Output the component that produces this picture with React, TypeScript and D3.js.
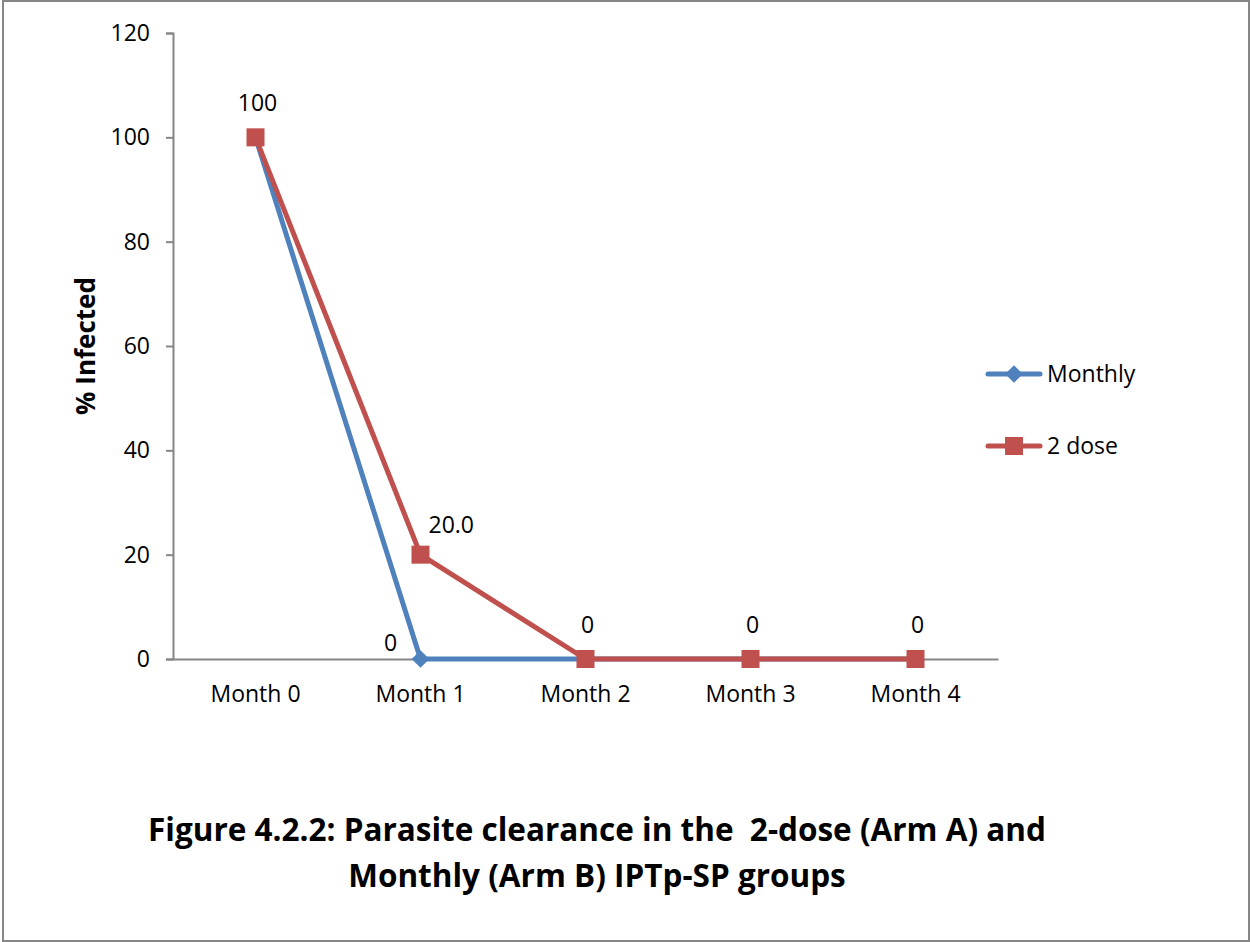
import React, { useEffect, useRef } from 'react';
import * as d3 from 'd3';

const categories = ['Month 0', 'Month 1', 'Month 2', 'Month 3', 'Month 4'];
const monthlyValues = [100, 0, 0, 0, 0];
const twoDoseValues = [100, 20, 0, 0, 0];
const yTicks = [0, 20, 40, 60, 80, 100, 120];
// data labels as shown on the chart (null = no label)
const monthlyLabels = [null, '0', null, null, null];
const twoDoseLabels = ['100', '20.0', '0', '0', '0'];

const FONT = '"Open Sans", Lato, sans-serif';
const BLUE = '#4F81BD';
const RED = '#C0504D';

export default function App() {
  const svgRef = useRef<SVGSVGElement>(null);

  useEffect(() => {
    if (!svgRef.current) return;
    const svg = d3.select(svgRef.current);
    svg.selectAll('*').remove();

    const width = 1251;
    const height = 942;
    const margin = { top: 33, left: 173, right: 253, bottom: 283 };

    // outer frame
    svg.append('rect')
      .attr('x', 3).attr('y', 1)
      .attr('width', width - 5).attr('height', height - 2)
      .attr('fill', 'white')
      .attr('stroke', '#868686')
      .attr('stroke-width', 2);

    const x = d3.scaleBand()
      .domain(categories)
      .range([margin.left, width - margin.right]);

    const y = d3.scaleLinear()
      .domain([0, 120])
      .range([height - margin.bottom, margin.top]);

    const cx = (c: string) => x(c)! + x.bandwidth() / 2;

    // y axis
    const yAxis = svg.append('g')
      .attr('transform', `translate(${margin.left},0)`)
      .call(d3.axisLeft(y).tickValues(yTicks).tickSize(7).tickPadding(16));
    yAxis.select('.domain').attr('stroke', '#868686').attr('stroke-width', 2);
    yAxis.selectAll('.tick line').attr('stroke', '#868686').attr('stroke-width', 2);
    yAxis.selectAll('.tick text')
      .style('font-family', FONT)
      .style('font-size', '23px')
      .attr('fill', '#000');

    // x axis
    const xAxis = svg.append('g')
      .attr('transform', `translate(0,${y(0)})`)
      .call(d3.axisBottom(x).tickSize(0).tickPadding(27));
    xAxis.select('.domain').attr('stroke', '#868686').attr('stroke-width', 2);
    xAxis.selectAll('.tick text')
      .style('font-family', FONT)
      .style('font-size', '23px')
      .attr('fill', '#000');

    // y label
    svg.append('text')
      .attr('transform', `translate(95,${(y(0) + y(120)) / 2}) rotate(-90)`)
      .attr('text-anchor', 'middle')
      .style('font-family', FONT)
      .style('font-size', '26px')
      .style('font-weight', 'bold')
      .text('% Infected');

    const line = d3.line<number>()
      .x((_, i) => cx(categories[i]))
      .y(d => y(d));

    const diamond = d3.symbol().type(d3.symbolDiamond2).size(200);

    // Monthly series
    svg.append('path')
      .datum(monthlyValues)
      .attr('d', line)
      .attr('fill', 'none')
      .attr('stroke', BLUE)
      .attr('stroke-width', 5)
      .attr('stroke-linejoin', 'round');
    svg.selectAll('.m-pt')
      .data(monthlyValues)
      .enter()
      .append('path')
      .attr('class', 'm-pt')
      .attr('d', diamond()!)
      .attr('transform', (d, i) => `translate(${cx(categories[i])},${y(d)})`)
      .attr('fill', BLUE);

    // 2 dose series
    svg.append('path')
      .datum(twoDoseValues)
      .attr('d', line)
      .attr('fill', 'none')
      .attr('stroke', RED)
      .attr('stroke-width', 5)
      .attr('stroke-linejoin', 'round');
    svg.selectAll('.r-pt')
      .data(twoDoseValues)
      .enter()
      .append('rect')
      .attr('class', 'r-pt')
      .attr('x', (d, i) => cx(categories[i]) - 9)
      .attr('y', d => y(d) - 9)
      .attr('width', 18)
      .attr('height', 18)
      .attr('fill', RED);

    // data labels
    const labelStyle = (sel: any) => sel
      .style('font-family', FONT)
      .style('font-size', '23px')
      .attr('fill', '#000');

    twoDoseLabels.forEach((lab, i) => {
      if (lab === null) return;
      const px = cx(categories[i]);
      const py = y(twoDoseValues[i]);
      const side = lab === '20.0';
      svg.append('text')
        .attr('x', side ? px + 8 : px + 2)
        .attr('y', side ? py - 22 : py - 26)
        .attr('text-anchor', side ? 'start' : 'middle')
        .call(labelStyle)
        .text(lab);
    });
    monthlyLabels.forEach((lab, i) => {
      if (lab === null) return;
      const px = cx(categories[i]);
      const py = y(monthlyValues[i]);
      svg.append('text')
        .attr('x', px - 30)
        .attr('y', py - 8)
        .attr('text-anchor', 'middle')
        .call(labelStyle)
        .text(lab);
    });

    // legend
    const legend = [
      { name: 'Monthly', color: BLUE, kind: 'diamond' },
      { name: '2 dose', color: RED, kind: 'square' },
    ];
    legend.forEach((l, i) => {
      const ly = 374 + i * 72;
      const g = svg.append('g');
      g.append('line')
        .attr('x1', 988).attr('x2', 1040)
        .attr('y1', ly).attr('y2', ly)
        .attr('stroke', l.color)
        .attr('stroke-width', 5)
        .attr('stroke-linecap', 'round');
      if (l.kind === 'diamond') {
        g.append('path')
          .attr('d', diamond()!)
          .attr('transform', `translate(1014,${ly})`)
          .attr('fill', l.color);
      } else {
        g.append('rect')
          .attr('x', 1005).attr('y', ly - 9)
          .attr('width', 18).attr('height', 18)
          .attr('fill', l.color);
      }
      g.append('text')
        .attr('x', 1047)
        .attr('y', ly + 8)
        .call(labelStyle)
        .text(l.name);
    });

    // caption
    const caption = ['Figure 4.2.2: Parasite clearance in the  2-dose (Arm A) and', 'Monthly (Arm B) IPTp-SP groups'];
    caption.forEach((t, i) => {
      svg.append('text')
        .attr('x', 597)
        .attr('y', 841 + i * 46)
        .attr('text-anchor', 'middle')
        .style('font-family', FONT)
        .style('font-size', '31.5px')
        .style('font-weight', 'bold')
        .style('white-space', 'pre')
        .text(t);
    });
  }, []);

  return (
    <svg
      ref={svgRef}
      width={1251}
      height={942}
      style={{ position: 'absolute', left: 0, top: 0, background: 'white' }}
    />
  );
}
